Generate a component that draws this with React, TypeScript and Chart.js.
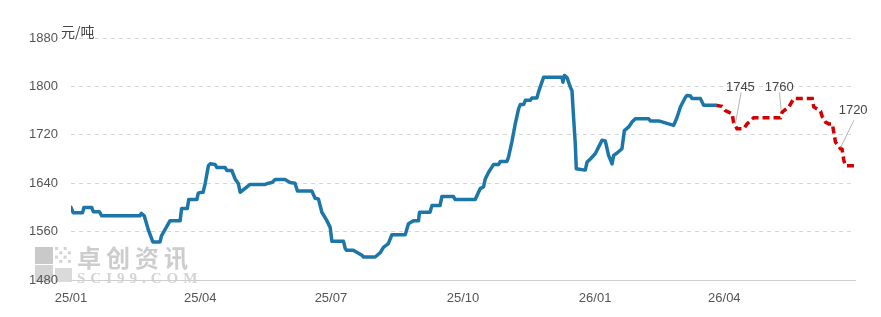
import React, { useEffect, useRef } from "react";
import { Chart, registerables } from "chart.js";

Chart.register(...registerables);

// ---- data ----
const tickDays = [0, 90, 181, 273, 365, 455];
const tickLabels = ["25/01", "25/04", "25/07", "25/10", "26/01", "26/04"];
const yMin = 1480;
const yMax = 1880;
const yStep = 80;
const unitLabel = "元/吨";

const actualDays = [
  0, 1.6, 8, 9, 14.4, 15.5, 19.7, 21.4, 48, 49, 51, 54, 57, 62, 63, 69, 76, 77, 81, 82,
  87.6, 88.7, 92, 93.4, 95.7, 96.9, 100.3, 101.5, 107.3, 108.5, 112, 114.3, 116.6, 117.8, 124.7, 135.2, 137.5, 140, 142.2, 149,
  152.6, 156, 157.7, 167.7, 170, 172.3, 174.7, 178, 180.5, 181.7, 189.8, 191, 192, 196.7, 199, 202.6, 203.7, 211.8, 215.3, 217.6,
  221, 223.5, 232.8, 235, 238.5, 242, 242.7, 250, 251.4, 257, 258.3, 266.4, 267.6, 281.5, 283.8, 285, 287.3, 288.5, 290.8, 293.2,
  294.3, 297.8, 299, 303.6, 304.7, 307, 309.4, 311.7, 312.9, 315.2, 316.4, 319.9, 321, 324.5, 325.6, 329.1, 341.9, 342.6, 343.6, 345.4,
  347.7, 348.9, 350, 351.2, 351.9, 357, 358.2, 359.4, 361.7, 365.2, 367.5, 369.8, 372.1, 374.4, 376.8, 377.9, 380.3, 383.7, 385.4, 388.4,
  390.7, 393, 402.3, 403.5, 409.3, 419.7, 422.1, 424.4, 427.9, 429, 431.4, 432.5, 438.3, 440.6, 448.8,
];
const actualValues = [
  1600, 1591, 1591, 1600, 1600, 1593, 1593, 1586, 1586, 1590, 1586, 1562, 1543, 1543, 1553, 1578, 1578, 1598, 1598, 1613,
  1613, 1624, 1625, 1639, 1669, 1672, 1671, 1666, 1666, 1661, 1661, 1647, 1639, 1625, 1638, 1638, 1640, 1641, 1646, 1646,
  1641, 1640, 1627, 1627, 1615, 1614, 1592, 1579, 1567, 1544, 1544, 1532, 1529, 1529, 1526, 1521, 1518, 1518, 1525, 1534,
  1540, 1555, 1555, 1573, 1578, 1578, 1592, 1592, 1603, 1603, 1618, 1618, 1613, 1613, 1625, 1631, 1634, 1647, 1658, 1667,
  1671, 1671, 1676, 1676, 1683, 1708, 1738, 1763, 1770, 1770, 1777, 1777, 1781, 1781, 1791, 1815, 1815, 1807, 1818, 1815,
  1799, 1793, 1749, 1705, 1664, 1662, 1662, 1675, 1680, 1689, 1700, 1711, 1710, 1686, 1672, 1686, 1690, 1697, 1727, 1733,
  1741, 1746.5, 1746.5, 1743, 1743, 1735.5, 1749, 1766, 1782, 1785, 1784, 1780, 1780, 1769, 1769,
];

const forecastDays = [
  448.8, 453.3, 455.7, 460.4, 461.4, 463.8, 468.5, 470.8, 475.4, 494, 495.3, 499.9, 503.4, 516.2, 517.3, 522, 523.2, 525.5,
  527.8, 530.2, 531.2, 532.4, 535.9, 537, 538.2, 539.3, 546.3,
];
const forecastValues = [
  1769, 1767, 1760, 1755, 1741, 1730, 1730, 1738, 1748, 1748, 1757.5, 1766, 1780, 1780, 1766, 1759, 1750, 1741,
  1738, 1738, 1724.5, 1708, 1697, 1696, 1678, 1669, 1669,
];

const noteDays = [462.7, 494.6, 536];
const noteValues = [1738, 1760, 1699];
const noteLabels = ["1745", "1760", "1720"];

// ---- layout / style (not data) ----
const noteLayout = [
  { lx: 5.7, ly: -31.6, tx: 5, ty: -33 },
  { lx: -1.7, ly: -18, tx: -2, ty: -20 },
  { lx: 13.3, ly: -27.3, tx: 12.5, ty: -34 },
];
const BLUE = "#1c77a8";
const RED = "#d20000";
const TICK_FONT = { family: "'Liberation Sans', Arial, sans-serif", size: 13 };

const overlayPlugin = {
  id: "overlay",
  beforeDraw(chart: any) {
    const { ctx, chartArea } = chart;
    const L = chartArea.left;
    const B = chartArea.bottom;
    ctx.save();
    // watermark logo
    ctx.fillStyle = "#c9c9c9";
    ctx.fillRect(L - 36, B - 33, 18, 17);
    ctx.fillStyle = "#d4d4d4";
    ctx.fillRect(L - 36, B - 15, 18, 17);
    ctx.fillStyle = "#dadada";
    ctx.fillRect(L - 16, B - 12, 17, 14);
    ctx.fillStyle = "#d4d4d4";
    for (let i = 0; i < 4; i++) {
      for (let j = 0; j < 4; j++) {
        if ((i + j) % 2 === 0) ctx.fillRect(L - 16 + i * 4.3, B - 33 + j * 4.3, 3, 3);
      }
    }
    // watermark text
    ctx.fillStyle = "#cdcdcd";
    ctx.font = "bold 24px 'Noto Sans CJK SC'";
    (ctx as any).letterSpacing = "5px";
    ctx.textAlign = "left";
    ctx.textBaseline = "middle";
    ctx.fillText("卓创资讯", L + 6, B - 22);
    ctx.fillStyle = "#d4d4d4";
    ctx.font = "bold 15px 'Liberation Serif'";
    (ctx as any).letterSpacing = "5px";
    ctx.textBaseline = "alphabetic";
    ctx.fillText("SCI99.COM", L + 6, B + 3);
    (ctx as any).letterSpacing = "0px";
    ctx.restore();
  },
  afterDatasetsDraw(chart: any) {
    const { ctx } = chart;
    const xs = chart.scales.x;
    const ys = chart.scales.y;
    ctx.save();
    for (let i = 0; i < noteDays.length; i++) {
      const px = xs.getPixelForValue(noteDays[i]);
      const py = ys.getPixelForValue(noteValues[i]);
      const l = noteLayout[i];
      ctx.strokeStyle = "#b4b4b4";
      ctx.lineWidth = 1;
      ctx.beginPath();
      ctx.moveTo(px, py);
      ctx.lineTo(px + l.lx, py + l.ly);
      ctx.stroke();
      ctx.fillStyle = "#444";
      ctx.font = "13px 'Liberation Sans'";
      ctx.textAlign = "center";
      ctx.textBaseline = "alphabetic";
      ctx.fillText(noteLabels[i], px + l.tx, py + l.ty);
    }
    // unit label
    const { chartArea } = chart;
    ctx.fillStyle = "#444";
    ctx.font = "14px 'Noto Sans CJK SC'";
    ctx.textAlign = "left";
    ctx.textBaseline = "bottom";
    ctx.fillText(unitLabel, chartArea.left - 10, chartArea.top + 1);
    ctx.restore();
  },
};

export default function App() {
  const ref = useRef<HTMLCanvasElement | null>(null);

  useEffect(() => {
    if (!ref.current) return;
    const actual = actualDays.map((d, i) => ({ x: d, y: actualValues[i] }));
    const forecast = forecastDays.map((d, i) => ({ x: d, y: forecastValues[i] }));
    const chart = new Chart(ref.current, {
      type: "line",
      data: {
        datasets: [
          {
            data: actual,
            borderColor: BLUE,
            borderWidth: 3.5,
            pointRadius: 0,
            tension: 0,
            borderJoinStyle: "round",
            borderCapStyle: "round",
          },
          {
            data: forecast,
            borderColor: RED,
            borderWidth: 3.5,
            borderDash: [7, 4],
            pointRadius: 0,
            tension: 0,
          },
        ],
      },
      options: {
        animation: false,
        responsive: false,
        events: [],
        layout: { padding: { left: 0, right: 26, top: 38, bottom: 0 } },
        plugins: { legend: { display: false }, tooltip: { enabled: false } },
        scales: {
          x: {
            type: "linear",
            min: 0,
            max: 546,
            afterBuildTicks: (s: any) => {
              s.ticks = tickDays.map((v) => ({ value: v }));
            },
            afterFit: (s: any) => {
              s.height = 37;
            },
            ticks: {
              autoSkip: false,
              maxRotation: 0,
              padding: 11,
              color: "#555",
              font: TICK_FONT,
              callback: (v: any) => {
                const idx = tickDays.indexOf(Number(v));
                return idx >= 0 ? tickLabels[idx] : "";
              },
            },
            grid: { display: false, drawTicks: false },
            border: { display: true, color: "#cfcfcf", width: 1 },
          },
          y: {
            min: yMin,
            max: yMax,
            afterFit: (s: any) => {
              s.width = 71;
            },
            ticks: {
              stepSize: yStep,
              padding: 13,
              color: "#555",
              font: TICK_FONT,
              callback: (v: any) => String(v),
            },
            grid: { color: "#d6d6d6", lineWidth: 1, drawTicks: false },
            border: { display: false, dash: [4, 4] },
          },
        },
      },
      plugins: [overlayPlugin],
    } as any);
    return () => chart.destroy();
  }, []);

  return (
    <div style={{ position: "absolute", left: 0, top: 0, width: 881, height: 317, background: "#fff" }}>
      <canvas ref={ref} width={881} height={317} style={{ display: "block" }} />
    </div>
  );
}
